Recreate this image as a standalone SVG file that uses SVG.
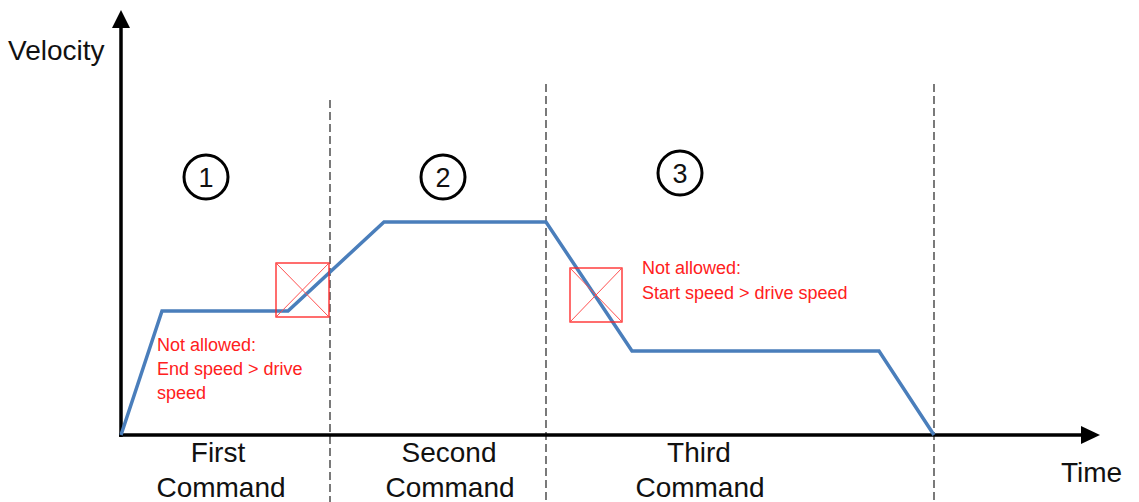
<svg xmlns="http://www.w3.org/2000/svg" width="1139" height="502" viewBox="0 0 1139 502">
<style>
.axis{stroke:#000;stroke-width:3.5;fill:none}
.dash{stroke:#222;stroke-width:1.2;stroke-dasharray:8,4;fill:none}
.curve{stroke:#4a7ebb;stroke-width:3.5;fill:none;stroke-linejoin:miter}
.xbox{stroke:#ff2020;stroke-width:1.3;fill:none}
.xdiag{stroke:#ff5050;stroke-width:1;fill:none}
.lbl{font-family:"Liberation Sans",Arial,sans-serif;font-size:28px;fill:#111}
.red{font-family:"Liberation Sans",Arial,sans-serif;font-size:18px;fill:#ff2020}
.num{stroke:#000;stroke-width:3;fill:#fff}
.numt{font-family:"Liberation Sans",Arial,sans-serif;font-size:27px;fill:#111;text-anchor:middle}
</style>
<rect width="1139" height="502" fill="#fff"/>
<g id="connectors">
<line class="dash" x1="330" y1="100" x2="330" y2="502"/>
<line class="dash" x1="546" y1="84" x2="546" y2="502"/>
<line class="dash" x1="934" y1="84" x2="934" y2="502"/>
<line class="axis" x1="121" y1="437" x2="121" y2="26"/>
<polygon points="121,10 112,28 130,28" fill="#000"/>
<line class="axis" x1="119" y1="435" x2="1082" y2="435"/>
<polygon points="1100,435 1081,426 1081,444" fill="#000"/>
<polyline class="curve" points="121,435 162,311 288,311 384,222 546,222 632,351 879,351 934,435"/>
</g>
<g id="box1">
<rect class="xbox" x="276" y="263" width="53" height="54"/>
<line class="xdiag" x1="276" y1="263" x2="329" y2="317"/>
<line class="xdiag" x1="329" y1="263" x2="276" y2="317"/>
</g>
<g id="box2">
<rect class="xbox" x="570" y="268" width="52" height="54"/>
<line class="xdiag" x1="570" y1="268" x2="622" y2="322"/>
<line class="xdiag" x1="622" y1="268" x2="570" y2="322"/>
</g>
<g id="num1"><circle class="num" cx="206" cy="177" r="22"/><text class="numt" x="206" y="187">1</text></g>
<g id="num2"><circle class="num" cx="443" cy="177" r="22"/><text class="numt" x="443" y="187">2</text></g>
<g id="num3"><circle class="num" cx="680" cy="173" r="22"/><text class="numt" x="680" y="183">3</text></g>
<g id="labels">
<text class="lbl" x="8" y="60">Velocity</text>
<text class="lbl" x="1061" y="482">Time</text>
<text class="lbl" x="218" y="462" text-anchor="middle">First</text>
<text class="lbl" x="221" y="497" text-anchor="middle">Command</text>
<text class="lbl" x="449" y="462" text-anchor="middle">Second</text>
<text class="lbl" x="450" y="497" text-anchor="middle">Command</text>
<text class="lbl" x="699" y="462" text-anchor="middle">Third</text>
<text class="lbl" x="700" y="497" text-anchor="middle">Command</text>
</g>
<g id="note1">
<text class="red" x="157" y="351">Not allowed:</text>
<text class="red" x="157" y="375">End speed &gt; drive</text>
<text class="red" x="157" y="399">speed</text>
</g>
<g id="note2">
<text class="red" x="642" y="274">Not allowed:</text>
<text class="red" x="642" y="299">Start speed &gt; drive speed</text>
</g>
</svg>
